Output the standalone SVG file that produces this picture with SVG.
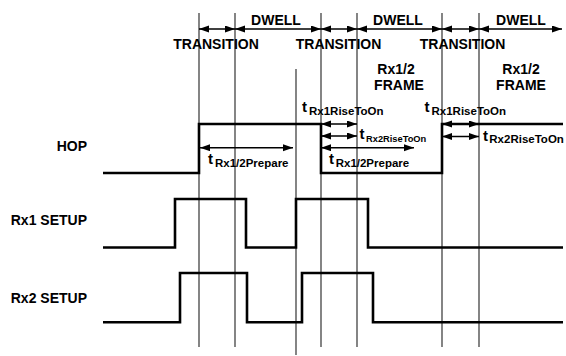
<svg xmlns="http://www.w3.org/2000/svg" width="566" height="356" viewBox="0 0 566 356">
<style>
text{font-family:"Liberation Sans",Arial,sans-serif;font-weight:bold;fill:#000}
.lbl{font-size:14px}
.mid{text-anchor:middle}
.end{text-anchor:end}
.t{font-size:15px}
.sub{font-size:11.5px}
.subs{font-size:9.3px}
.grid{stroke:#333;stroke-width:1.2;fill:none}
.sig{stroke:#000;stroke-width:2.6;fill:none;stroke-linejoin:miter}
.arr{stroke:#000;stroke-width:1.6;fill:none;marker-start:url(#ah);marker-end:url(#ah)}
</style>
<defs>
<marker id="ah" markerUnits="userSpaceOnUse" markerWidth="11" markerHeight="8" refX="10" refY="3.5" orient="auto-start-reverse">
<path d="M0,0 L10,3.5 L0,7 z" fill="#000"/>
</marker>
</defs>
<rect width="566" height="356" fill="#fff"/>
<g id="gridlines">
<line class="grid" x1="199" y1="13" x2="199" y2="347"/>
<line class="grid" x1="235" y1="13" x2="235" y2="347"/>
<line class="grid" x1="296" y1="69" x2="296" y2="355"/>
<line class="grid" x1="321" y1="13" x2="321" y2="347"/>
<line class="grid" x1="357" y1="13" x2="357" y2="347"/>
<line class="grid" x1="442" y1="13" x2="442" y2="347"/>
<line class="grid" x1="479" y1="13" x2="479" y2="347"/>
</g>
<g id="labels-left">
<text class="lbl end" x="87" y="150.7">HOP</text>
<text class="lbl end" x="87" y="225">Rx1 SETUP</text>
<text class="lbl end" x="87" y="302.7">Rx2 SETUP</text>
</g>
<g id="phase-labels">
<text class="lbl mid" x="276" y="25">DWELL</text>
<text class="lbl mid" x="398" y="25">DWELL</text>
<text class="lbl mid" x="521" y="25">DWELL</text>
<text class="lbl mid" x="216" y="49">TRANSITION</text>
<text class="lbl mid" x="338.5" y="49">TRANSITION</text>
<text class="lbl mid" x="462.5" y="49">TRANSITION</text>
<text class="lbl mid" x="396" y="73.5">Rx1/2</text>
<text class="lbl mid" x="399" y="89.7">FRAME</text>
<text class="lbl mid" x="521" y="73.5">Rx1/2</text>
<text class="lbl mid" x="521" y="89.7">FRAME</text>
</g>
<g id="signal-hop">
<polyline class="sig" points="103,173 199,173 199,124 321,124 321,173 442,173 442,124 563,124"/>
</g>
<g id="signal-rx1">
<polyline class="sig" points="103,247.5 175,247.5 175,199 246,199 246,247.5 296,247.5 296,199 368,199 368,247.5 563,247.5"/>
</g>
<g id="signal-rx2">
<polyline class="sig" points="103,322.3 180,322.3 180,273 247,273 247,322.3 302,322.3 302,273 373,273 373,322.3 563,322.3"/>
</g>
<g id="connectors">
<line class="arr" x1="199" y1="29" x2="235" y2="29"/>
<line class="arr" x1="235" y1="29" x2="321" y2="29"/>
<line class="arr" x1="321" y1="29" x2="357" y2="29"/>
<line class="arr" x1="357" y1="29" x2="442" y2="29"/>
<line class="arr" x1="442" y1="29" x2="479" y2="29"/>
<line class="arr" x1="479" y1="29" x2="562" y2="29"/>
<line class="arr" x1="200" y1="147.7" x2="293" y2="147.7"/>
<line class="arr" x1="321" y1="124" x2="357" y2="124"/>
<line class="arr" x1="321" y1="136" x2="357" y2="136"/>
<line class="arr" x1="321" y1="147.7" x2="414" y2="147.7"/>
<line class="arr" x1="442" y1="124" x2="479" y2="124"/>
<line class="arr" x1="442" y1="136.5" x2="479" y2="136.5"/>
</g>
<g id="timing-labels">
<text x="302" y="112"><tspan class="t">t</tspan><tspan class="sub" x="309" y="115">Rx1RiseToOn</tspan></text>
<text x="424.5" y="112"><tspan class="t">t</tspan><tspan class="sub" x="431.5" y="115">Rx1RiseToOn</tspan></text>
<text x="359.5" y="138.5"><tspan class="t">t</tspan><tspan class="subs" x="366" y="141.7">Rx2RiseToOn</tspan></text>
<text x="483" y="140.7"><tspan class="t">t</tspan><tspan class="sub" x="489.3" y="143.3">Rx2RiseToOn</tspan></text>
<text x="208" y="164"><tspan class="t">t</tspan><tspan class="sub" x="215" y="166.7">Rx1/2Prepare</tspan></text>
<text x="329" y="164"><tspan class="t">t</tspan><tspan class="sub" x="335.7" y="166.7">Rx1/2Prepare</tspan></text>
</g>
</svg>
